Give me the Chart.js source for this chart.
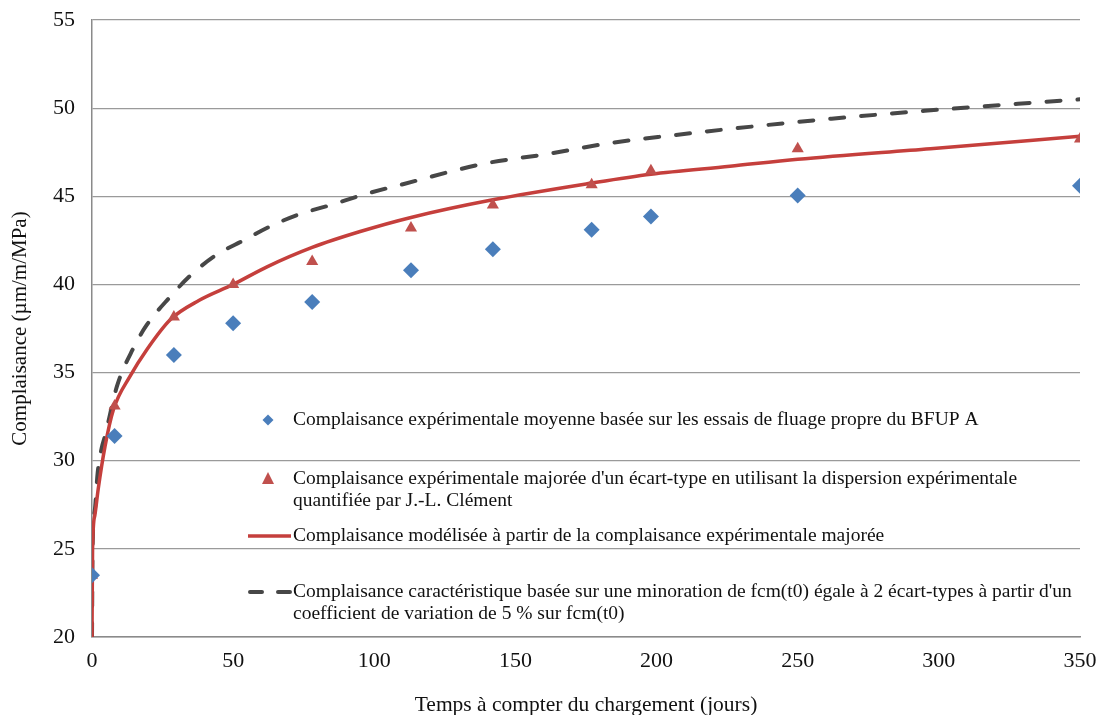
<!DOCTYPE html>
<html lang="fr">
<head>
<meta charset="utf-8">
<title>Complaisance BFUP A</title>
<script src="https://cdn.jsdelivr.net/npm/chart.js@4.4.1/dist/chart.umd.min.js"></script>
<style>
  html, body { margin: 0; padding: 0; background: #fff; }
  #wrap { position: relative; width: 1101px; height: 715px; }
</style>
</head>
<body>
<div id="wrap"><canvas id="chart"></canvas></div>
<script>
// ---- données ----
// points expérimentaux (jours)
const tempsEssais = [0, 8, 29, 50, 78, 113, 142, 177, 198, 250, 350];
const complMoyenne = [23.5, 31.4, 36.0, 37.8, 39.0, 40.8, 42.0, 43.1, 43.85, 45.05, 45.6];
const complMajoree = [23.5, 33.1, 38.15, 40.0, 41.3, 43.2, 44.5, 45.65, 46.45, 47.7, 48.25];

// courbe modélisée (trait rouge)
const tempsModele = [0, 0.2, 1, 2.2, 4.6, 7.6, 13.5, 19.4, 27.7, 38, 50, 62, 78, 95, 113, 142, 177, 198, 226, 250, 297, 350];
const complModele = [20, 25.0, 26.9, 28.4, 30.8, 32.9, 34.8, 36.3, 38.0, 39.1, 40.0, 41.0, 42.1, 43.0, 43.8, 44.8, 45.75, 46.25, 46.7, 47.1, 47.7, 48.4];

// courbe caractéristique (tirets gris)
const tempsCarac = [0, 0.2, 1, 2, 3.4, 4.6, 8.8, 14.7, 19.4, 27.7, 34.8, 44.3, 53.7, 63.2, 73.8, 84.5, 96.3, 110.5, 138.9, 161.4, 182.7, 205.2, 227.6, 262, 295, 328, 350];
const complCarac = [20, 25.0, 27.2, 29.3, 30.7, 31.4, 34.2, 36.4, 37.7, 39.3, 40.5, 41.7, 42.5, 43.3, 44.0, 44.5, 45.1, 45.7, 46.85, 47.4, 48.0, 48.45, 48.85, 49.4, 49.85, 50.25, 50.5];

// axes
const xMin = 0, xMax = 350, xPas = 50;
const yMin = 20, yMax = 55, yPas = 5;

// textes de légende (une ligne par élément)
const legMoyenne = ["Complaisance expérimentale moyenne basée sur les essais de fluage propre du BFUP A"];
const legMajoree = ["Complaisance expérimentale majorée d'un écart-type en utilisant la dispersion expérimentale",
                    "quantifiée par J.-L. Clément"];
const legModele = ["Complaisance modélisée à partir de la complaisance expérimentale majorée"];
const legCarac = ["Complaisance caractéristique basée sur une minoration de fcm(t0) égale à 2 écart-types à partir d'un",
                  "coefficient de variation de 5 % sur fcm(t0)"];

const titreX = "Temps à compter du chargement (jours)";
const titreY = "Complaisance (µm/m/MPa)";

const bleu = '#4a7ebb';
const rouge = '#c0504d';
const rougeTrait = '#c53f3c';
const gris = '#474747';
const police = '"Liberation Serif", "Times New Roman", serif';

const toXY = (xs, ys) => xs.map((x, i) => ({ x: x, y: ys[i] }));

// ---- légende dessinée dans la zone du graphique ----
const legendeInterne = {
  id: 'legendeInterne',
  afterDraw(chart) {
    const ctx = chart.ctx;
    const a = chart.chartArea;
    const xMarq = a.left + 176;
    const xTexte = a.left + 201;
    const xL0 = a.left + 156, xL1 = a.left + 199;
    const interligne = 22;
    const rangs = [
      { y: a.top + 400, lignes: legMoyenne, type: 'losange' },
      { y: a.top + 459, lignes: legMajoree, type: 'triangle' },
      { y: a.top + 516, lignes: legModele, type: 'trait' },
      { y: a.top + 572, lignes: legCarac, type: 'tirets' }
    ];
    ctx.save();
    rangs.forEach(r => {
      if (r.type === 'losange') {
        ctx.fillStyle = bleu;
        ctx.beginPath();
        ctx.moveTo(xMarq, r.y - 5.5);
        ctx.lineTo(xMarq + 5.5, r.y);
        ctx.lineTo(xMarq, r.y + 5.5);
        ctx.lineTo(xMarq - 5.5, r.y);
        ctx.closePath();
        ctx.fill();
      } else if (r.type === 'triangle') {
        ctx.fillStyle = rouge;
        ctx.beginPath();
        ctx.moveTo(xMarq, r.y - 7);
        ctx.lineTo(xMarq + 6, r.y + 5);
        ctx.lineTo(xMarq - 6, r.y + 5);
        ctx.closePath();
        ctx.fill();
      } else if (r.type === 'trait') {
        ctx.strokeStyle = rougeTrait;
        ctx.lineWidth = 3.5;
        ctx.setLineDash([]);
        ctx.beginPath();
        ctx.moveTo(xL0, r.y);
        ctx.lineTo(xL1, r.y);
        ctx.stroke();
      } else {
        ctx.strokeStyle = gris;
        ctx.lineWidth = 4;
        ctx.lineCap = 'round';
        ctx.setLineDash([12, 16]);
        ctx.beginPath();
        ctx.moveTo(xL0 + 2, r.y);
        ctx.lineTo(xL1, r.y);
        ctx.stroke();
        ctx.setLineDash([]);
        ctx.lineCap = 'butt';
      }
      ctx.fillStyle = '#111';
      ctx.font = '19.5px ' + police;
      ctx.textAlign = 'left';
      ctx.textBaseline = 'middle';
      r.lignes.forEach((t, i) => ctx.fillText(t, xTexte, r.y + i * interligne));
    });
    ctx.restore();
  }
};

new Chart(document.getElementById('chart').getContext('2d'), {
  type: 'scatter',
  data: {
    datasets: [
      {
        label: legMoyenne.join(' '),
        data: toXY(tempsEssais, complMoyenne),
        backgroundColor: bleu,
        borderColor: bleu,
        pointStyle: 'rectRot',
        pointRadius: 8,
        borderWidth: 0,
        order: 1
      },
      {
        label: legMajoree.join(' '),
        data: toXY(tempsEssais, complMajoree),
        backgroundColor: rouge,
        borderColor: rouge,
        pointStyle: 'triangle',
        pointRadius: 7,
        borderWidth: 0,
        order: 2
      },
      {
        type: 'line',
        label: legModele.join(' '),
        data: toXY(tempsModele, complModele),
        borderColor: rougeTrait,
        borderWidth: 3.5,
        pointRadius: 0,
        fill: false,
        cubicInterpolationMode: 'monotone',
        order: 3
      },
      {
        type: 'line',
        label: legCarac.join(' '),
        data: toXY(tempsCarac, complCarac),
        borderColor: gris,
        borderWidth: 4,
        borderDash: [14, 17],
        borderCapStyle: 'round',
        pointRadius: 0,
        fill: false,
        cubicInterpolationMode: 'monotone',
        order: 4
      }
    ]
  },
  options: {
    responsive: true,
    maintainAspectRatio: false,
    animation: false,
    devicePixelRatio: 1,
    layout: { padding: { top: 20, right: 21, bottom: 0, left: 0 } },
    plugins: {
      legend: { display: false },
      tooltip: { enabled: false }
    },
    scales: {
      x: {
        type: 'linear',
        min: xMin,
        max: xMax,
        ticks: { stepSize: xPas, padding: 11, color: '#111', font: { family: police, size: 22 } },
        grid: { display: false, drawTicks: false },
        border: { display: true, color: '#8a8a8a', width: 1.5 },
        title: { display: true, text: titreX, color: '#111', font: { family: police, size: 21.5, lineHeight: 0.9 }, padding: { top: 0, bottom: 0 } },
        afterFit: s => { s.height = 78; s.paddingLeft = 0; s.paddingRight = 0; }
      },
      y: {
        min: yMin,
        max: yMax,
        ticks: { stepSize: yPas, padding: 17, color: '#111', font: { family: police, size: 22 } },
        grid: { color: '#9a9a9a', lineWidth: 1.2, drawTicks: false },
        border: { display: true, color: '#8a8a8a', width: 1.5 },
        title: { display: true, text: titreY, color: '#111', font: { family: police, size: 21 }, padding: { top: 8, bottom: 0 } },
        afterFit: s => { s.width = 92; s.paddingTop = 0; s.paddingBottom = 0; }
      }
    }
  },
  plugins: [legendeInterne]
});
</script>
</body>
</html>
